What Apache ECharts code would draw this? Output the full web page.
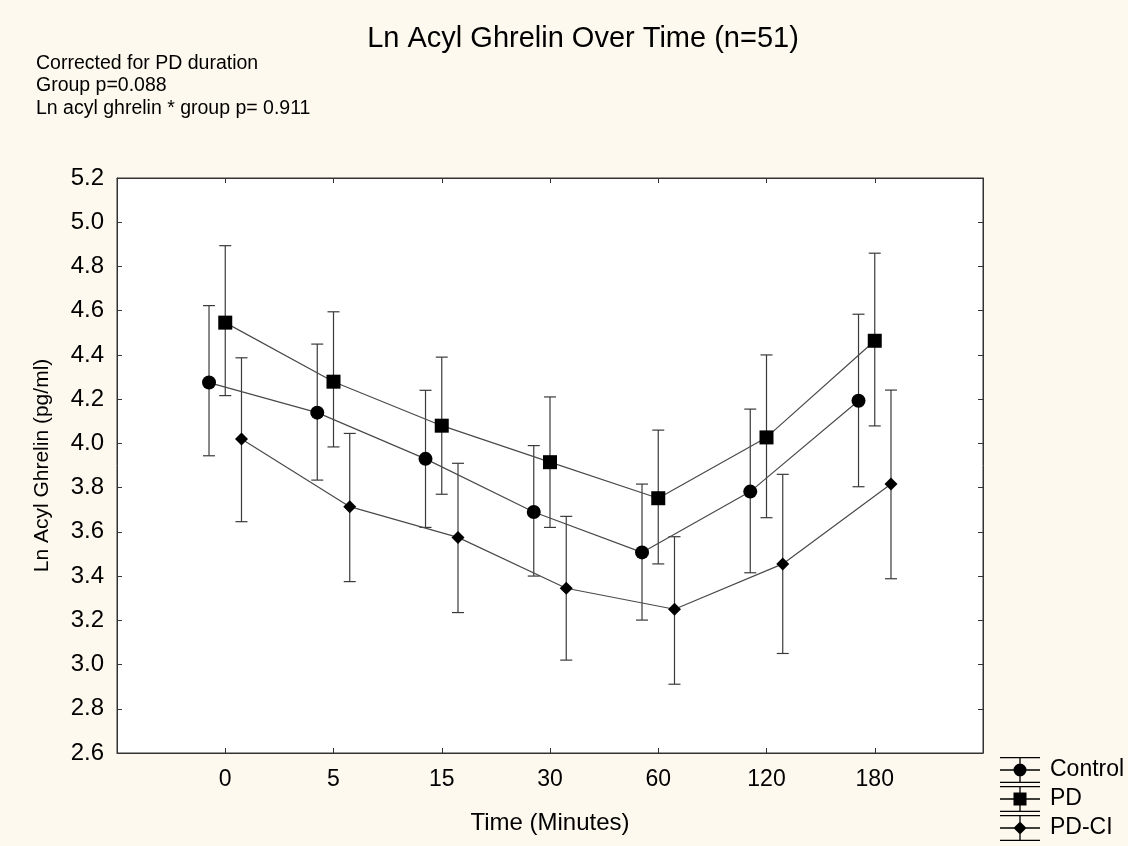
<!DOCTYPE html>
<html>
<head>
<meta charset="utf-8">
<script src="https://cdn.jsdelivr.net/npm/echarts@6/dist/echarts.min.js"></script>
<style>
  html, body { margin: 0; padding: 0; background: #FEF9EE; }
  #chart { width: 1128px; height: 846px; }
</style>
</head>
<body>
<div id="chart"></div>
<script>
  // time points (category labels)
  var times = ['0', '5', '15', '30', '60', '120', '180'];

  // group means and error bar ends
  var controlMean = [4.275, 4.139, 3.93, 3.69, 3.507, 3.782, 4.193];
  var controlHigh = [4.623, 4.449, 4.24, 3.99, 3.816, 4.155, 4.584];
  var controlLow  = [3.944, 3.834, 3.62, 3.40, 3.201, 3.415, 3.804];

  var pdMean = [4.546, 4.279, 4.08, 3.915, 3.752, 4.027, 4.464];
  var pdHigh = [4.894, 4.595, 4.39, 4.21, 4.060, 4.40, 4.860];
  var pdLow  = [4.216, 3.984, 3.77, 3.62, 3.455, 3.664, 4.079];

  var pdciMean = [4.020, 3.714, 3.575, 3.345, 3.250, 3.455, 3.816];
  var pdciHigh = [4.387, 4.045, 3.91, 3.67, 3.578, 3.86, 4.241];
  var pdciLow  = [3.646, 3.375, 3.235, 3.02, 2.911, 3.05, 3.388];

  var yTicks = [2.6, 5.2, 0.2]; // min, max, step

  // horizontal offset of each group around the time point
  var offsets = { Control: -0.15, PD: 0, 'PD-CI': 0.15 };

  function points(mean, off) {
    return mean.map(function (v, i) { return [i + off, v]; });
  }
  function bars(low, high, off) {
    return low.map(function (v, i) { return [i + off, v, high[i]]; });
  }

  // legend glyphs: caps, stem, middle bar and the marker (40 x 26 box)
  var glyphBase = 'M0 0H40V1.3H0Z M0 24.7H40V26H0Z M19.35 0H20.65V26H19.35Z M0 12.35H40V13.65H0Z ';
  var iconCircle = 'path://' + glyphBase + 'M13.5 13A6.5 6.5 0 1 1 26.5 13A6.5 6.5 0 1 1 13.5 13Z';
  var iconSquare = 'path://' + glyphBase + 'M13.5 6.5H26.5V19.5H13.5Z';
  var iconDiamond = 'path://' + glyphBase + 'M20 6.5L26.5 13L20 19.5L13.5 13Z';

  function errorSeries(name, data) {
    return {
      name: name,
      type: 'custom',
      data: data,
      z: 1,
      renderItem: function (params, api) {
        var x = api.value(0);
        var top = api.coord([x, api.value(2)]);
        var bot = api.coord([x, api.value(1)]);
        var hw = 6;
        var st = { stroke: '#3a3a3a', lineWidth: 1.2 };
        return {
          type: 'group',
          children: [
            { type: 'line', shape: { x1: top[0], y1: top[1], x2: bot[0], y2: bot[1] }, style: st },
            { type: 'line', shape: { x1: top[0] - hw, y1: top[1], x2: top[0] + hw, y2: top[1] }, style: st },
            { type: 'line', shape: { x1: bot[0] - hw, y1: bot[1], x2: bot[0] + hw, y2: bot[1] }, style: st }
          ]
        };
      }
    };
  }

  function lineSeries(name, data, symbol, size) {
    return {
      name: name,
      type: 'line',
      data: data,
      z: 3,
      symbol: symbol,
      symbolSize: size,
      showAllSymbol: true,
      lineStyle: { color: '#4a4a4a', width: 1.2 },
      itemStyle: { color: '#000' },
      emphasis: { disabled: true }
    };
  }

  function legendItem(name, icon, top) {
    return {
      orient: 'vertical',
      left: 1000,
      top: top,
      padding: 0,
      itemWidth: 40,
      itemHeight: 26,
      itemGap: 8,
      itemStyle: { color: '#000', borderWidth: 0 },
      textStyle: { fontSize: 23, color: '#000', padding: [0, 0, 0, 5] },
      data: [{ name: name, icon: icon }]
    };
  }

  var axisLineStyle = { show: true, onZero: false, lineStyle: { color: '#333' } };
  var tickStyle = { show: true, inside: true, length: 5, lineStyle: { color: '#333' } };

  var chart = echarts.init(document.getElementById('chart'));
  chart.setOption({
    backgroundColor: '#FEF9EE',
    animation: false,
    textStyle: { fontFamily: 'Liberation Sans, Arial, sans-serif', color: '#000' },
    title: [{
      text: 'Ln Acyl Ghrelin Over Time (n=51)',
      left: 578,
      textAlign: 'center',
      top: 19,
      textStyle: { fontSize: 29, fontWeight: 'normal', color: '#000' }
    }, {
      text: 'Corrected for PD duration\nGroup p=0.088\nLn acyl ghrelin * group p= 0.911',
      left: 31,
      top: 47,
      textStyle: { fontSize: 19.5, fontWeight: 'normal', color: '#000', lineHeight: 22.5 }
    }],
    legend: [
      legendItem('Control', iconCircle, 757),
      legendItem('PD', iconSquare, 786),
      legendItem('PD-CI', iconDiamond, 815)
    ],
    grid: {
      left: 117, right: 145, top: 178, bottom: 93,
      show: true, backgroundColor: '#fff', borderColor: '#333', borderWidth: 1
    },
    xAxis: [{
      type: 'value',
      min: -1, max: 7, interval: 1,
      name: 'Time (Minutes)',
      nameLocation: 'middle',
      nameGap: 58,
      nameTextStyle: { fontSize: 24, color: '#000' },
      axisLine: axisLineStyle,
      axisTick: tickStyle,
      axisLabel: {
        fontSize: 23, color: '#000', margin: 15,
        formatter: function (v) { return times[v] !== undefined ? times[v] : ''; }
      },
      splitLine: { show: false }
    }, {
      type: 'value',
      position: 'top',
      min: -1, max: 7, interval: 1,
      axisLine: axisLineStyle,
      axisTick: tickStyle,
      axisLabel: { show: false },
      splitLine: { show: false }
    }],
    yAxis: [{
      type: 'value',
      min: yTicks[0], max: yTicks[1], interval: yTicks[2],
      name: 'Ln Acyl Ghrelin (pg/ml)',
      nameLocation: 'middle',
      nameGap: 64,
      nameTextStyle: { fontSize: 21, color: '#000' },
      axisLine: axisLineStyle,
      axisTick: tickStyle,
      axisLabel: {
        fontSize: 24, color: '#000', margin: 13,
        formatter: function (v) { return v.toFixed(1); }
      },
      splitLine: { show: false }
    }, {
      type: 'value',
      position: 'right',
      min: yTicks[0], max: yTicks[1], interval: yTicks[2],
      axisLine: axisLineStyle,
      axisTick: tickStyle,
      axisLabel: { show: false },
      splitLine: { show: false }
    }],
    series: [
      errorSeries('Control', bars(controlLow, controlHigh, offsets.Control)),
      errorSeries('PD', bars(pdLow, pdHigh, offsets.PD)),
      errorSeries('PD-CI', bars(pdciLow, pdciHigh, offsets['PD-CI'])),
      lineSeries('Control', points(controlMean, offsets.Control), 'circle', 14),
      lineSeries('PD', points(pdMean, offsets.PD), 'rect', 14),
      lineSeries('PD-CI', points(pdciMean, offsets['PD-CI']), 'diamond', 13)
    ]
  });
</script>
</body>
</html>
